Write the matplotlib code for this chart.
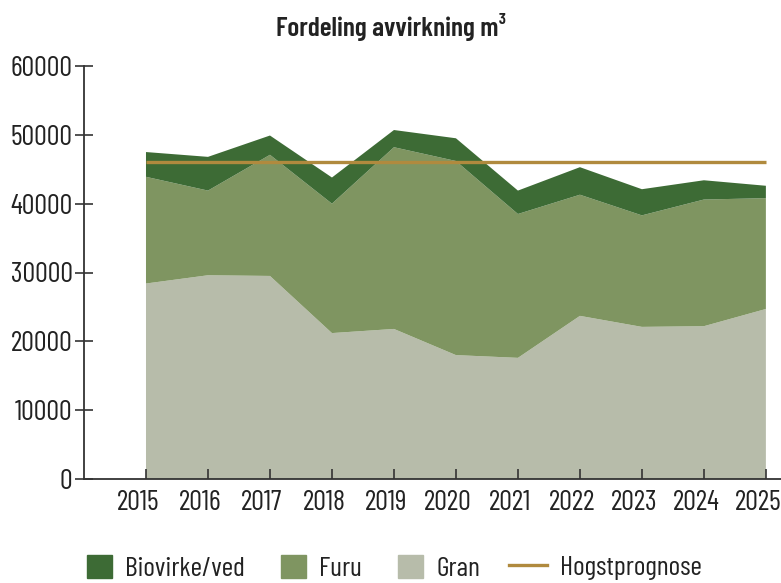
import matplotlib.pyplot as plt
from matplotlib.patches import Patch
from matplotlib.lines import Line2D
from matplotlib.transforms import ScaledTranslation

plt.rcParams["font.family"] = ["Barlow Condensed", "DejaVu Sans"]

# ── data (m3 per year) ───────────────────────────────────────────────────────
years = [2015, 2016, 2017, 2018, 2019, 2020, 2021, 2022, 2023, 2024, 2025]
gran = [28400, 29600, 29500, 21200, 21800, 18000, 17600, 23700, 22100, 22200, 24700]
furu = [15500, 12300, 17600, 18800, 26400, 28200, 20900, 17600, 16200, 18400, 16100]
biovirke = [3600, 4900, 2800, 3800, 2500, 3300, 3400, 4000, 3800, 2800, 1800]
hogstprognose = [46000] * len(years)

c_bio = "#3d6b35"
c_furu = "#7f9561"
c_gran = "#b7bcaa"
c_line = "#b08a3e"
c_text = "#222222"
c_axis = "#333333"

fig = plt.figure(figsize=(7.81, 5.83), dpi=100)
ax = fig.add_axes([84 / 781, 104 / 583, 698 / 781, 413 / 583])

ax.stackplot(years, gran, furu, biovirke,
             colors=[c_gran, c_furu, c_bio], lw=0)
ax.plot(years, hogstprognose, color=c_line, lw=2.4, solid_capstyle="butt")

ax.set_xlim(2014, 2025.26)
ax.set_ylim(0, 60000)
ax.set_xticks(years)
ax.set_yticks(range(0, 60001, 10000))

for s in ["top", "right"]:
    ax.spines[s].set_visible(False)
for s in ["left", "bottom"]:
    ax.spines[s].set_color(c_axis)
    ax.spines[s].set_linewidth(1.3)

ax.tick_params(axis="y", direction="inout", length=12.5, width=1.2,
               color=c_axis, labelsize=20.3, labelcolor=c_text, pad=2)
ax.tick_params(axis="x", direction="in", length=7, width=1.2,
               color=c_axis, labelsize=20.3, labelcolor=c_text, pad=8)

# year labels sit a little left of their ticks in the original
shift = ScaledTranslation(-8 / 100, 0, fig.dpi_scale_trans)
for lbl in ax.get_xticklabels():
    lbl.set_transform(lbl.get_transform() + shift)

fig.suptitle("Fordeling avvirkning m³", x=0.5, y=0.978, fontsize=19.8,
             fontweight=600, color=c_text)

# legend: patches and the line in two pieces so the line handle can be longer
patch_handles = [
    Patch(color=c_bio, label="Biovirke/ved"),
    Patch(color=c_furu, label="Furu"),
    Patch(color=c_gran, label="Gran"),
]
line_handle = [Line2D([], [], color=c_line, lw=2.4, label="Hogstprognose")]

common = dict(loc="center left", frameon=False, fontsize=20,
              handletextpad=0.47, borderpad=0, borderaxespad=0,
              labelcolor=c_text)
fig.legend(handles=patch_handles, ncol=3, bbox_to_anchor=(87 / 781, 0.026),
           handlelength=0.9, handleheight=0.94, columnspacing=1.3, **common)
fig.legend(handles=line_handle, bbox_to_anchor=(509 / 781, 0.026),
           handlelength=1.36, **common)

plt.savefig("out.png", dpi=100)
